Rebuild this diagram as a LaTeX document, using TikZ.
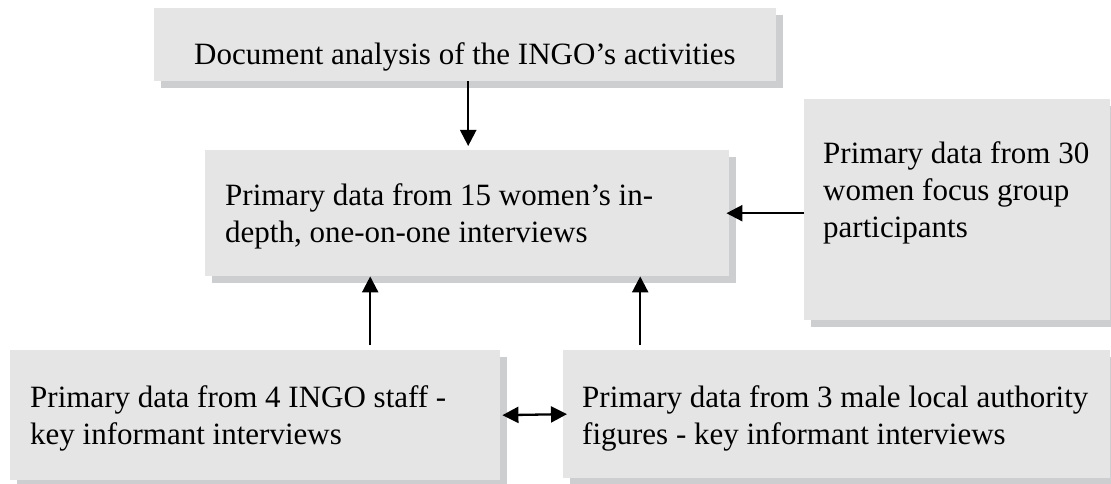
\documentclass[tikz,border=0pt]{standalone}
\usepackage{fontspec}
\setmainfont{Liberation Serif}
\usetikzlibrary{shadows,arrows.meta}

\definecolor{boxfill}{RGB}{230,229,229}
\definecolor{boxshade}{RGB}{205,206,208}

\tikzset{
  panel/.style={rectangle, fill=boxfill, draw=none, anchor=north west, inner sep=0pt,
    drop shadow={shadow xshift=6.5pt, shadow yshift=-6.5pt, fill=boxshade, opacity=1}},
  label/.style={inner sep=0pt, align=left, font=\fontsize{31}{37}\selectfont},
  tip/.tip={Triangle[length=16pt, width=16pt]},
  arr/.style={line width=2.3pt, -tip},
  darr/.style={line width=2.3pt, tip-tip}
}

\begin{document}
\begin{tikzpicture}[x=1pt, y=-1pt]
  \useasboundingbox (0,0) rectangle (1111,484);

  % boxes
  \node[panel, minimum width=622pt, minimum height=73pt]  (top)   at (154,8)   {};
  \node[panel, minimum width=524pt, minimum height=126pt] (main)  at (205,150) {};
  \node[panel, minimum width=306pt, minimum height=221pt] (focus) at (804,99)  {};
  \node[panel, minimum width=490pt, minimum height=130pt] (staff) at (10,350)  {};
  \node[panel, minimum width=547pt, minimum height=128pt] (local) at (563,350) {};

  % texts
  \node[label, anchor=base]       (topT)   at (465,65)    {Document analysis of the INGO’s activities};
  \node[label, anchor=north west] (mainT)  at (225,183.5) {Primary data from 15 women’s in-\\depth, one-on-one interviews};
  \node[label, anchor=north west] (focusT) at (823,141.5) {Primary data from 30\\women focus group\\participants};
  \node[label, anchor=north west] (staffT) at (30,385.5)  {Primary data from 4 INGO staff -\\key informant interviews};
  \node[label, anchor=north west] (localT) at (582,385.5) {Primary data from 3 male local authority\\figures - key informant interviews};

  % connectors
  \coordinate (topOut) at ([xshift=3pt]top.south);
  \draw[arr, shorten >=4pt] (topOut) -- (topOut |- main.north);

  \draw[arr, shorten >=-3pt] (focus.west |- main.east) -- (main.east);

  \coordinate (staffOut) at ([xshift=115pt]staff.north);
  \draw[arr, shorten <=5pt] (staffOut) -- (staffOut |- main.south);

  \coordinate (localOut) at ([xshift=-196.5pt]local.north);
  \draw[arr, shorten <=5pt] (localOut) -- (localOut |- main.south);

  \draw[darr, shorten <=2pt, shorten >=-4pt] (staff.east) -- (local.west);
\end{tikzpicture}
\end{document}
